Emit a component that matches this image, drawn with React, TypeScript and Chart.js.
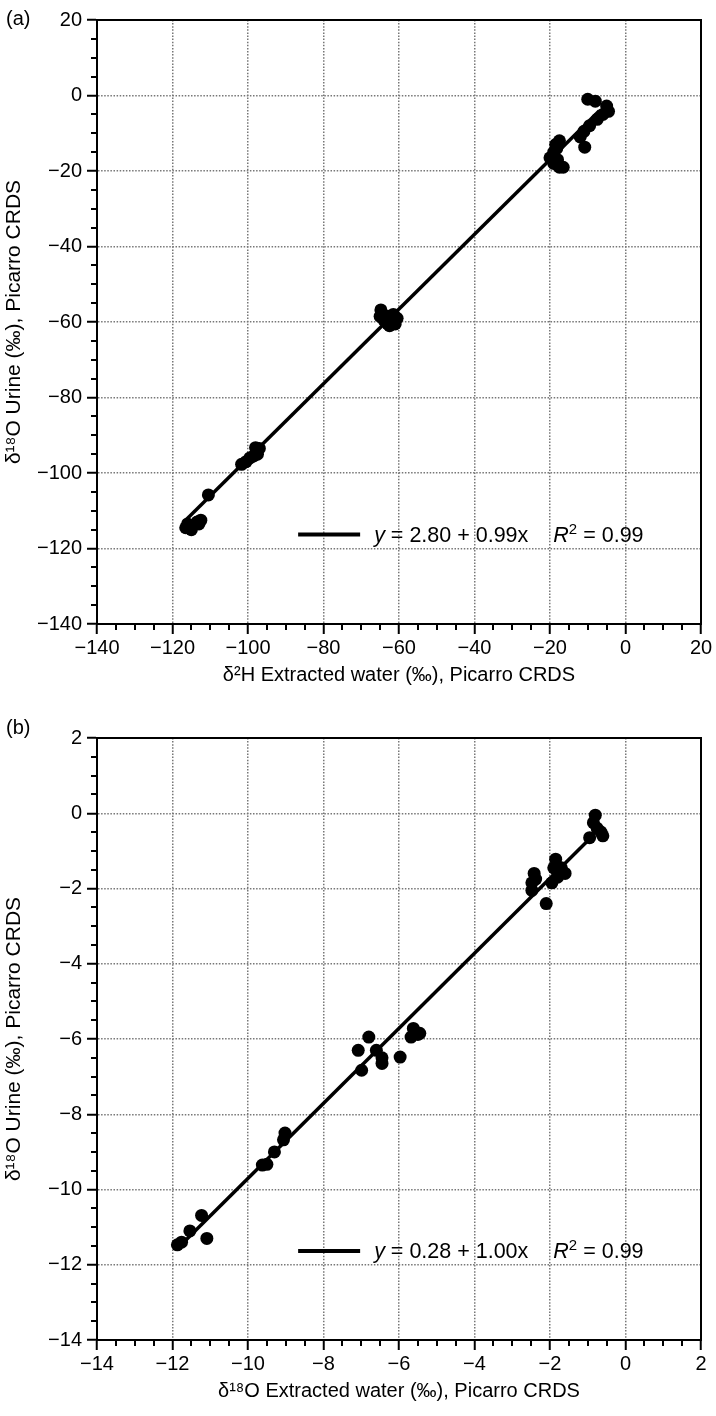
import React, { useEffect, useRef } from "react";
import { Chart, registerables } from "chart.js";

Chart.register(...registerables);

const FONT = "'Liberation Sans', Arial, Helvetica, sans-serif";

// ---------- Panel (a): δ2H ----------
const aPointsX = [
  -116.5, -116, -115, -113.5, -112.5, -113,
  -110.5,
  -101.7, -100.5, -99.5, -98.5, -98, -97, -97.5,
  -64.8, -65, -64, -63, -62, -61, -60.5, -61.5, -63, -62.5,
  -17.5, -18.5, -19, -20, -19, -17.5, -16.5, -18, -18.2,
  -10, -8, -5, -4.5, -7.5, -9.5, -11, -10.8, -6, -12,
];
const aPointsY = [
  -114.5, -113.5, -115, -113, -112.5, -113.5,
  -105.8,
  -97.7, -97, -96, -95.5, -93.3, -93.5, -95,
  -56.8, -58.5, -59.5, -60.5, -59, -60.5, -59, -58, -58.5, -61,
  -12, -13, -15, -16.5, -18, -19, -19, -17, -14,
  -1, -1.5, -2.8, -4.2, -6.3, -8, -9.5, -13.7, -5, -11,
];
const aFitX = [-117, -7];
const aFitY = [-113.0, -4.1];
const aXTicks = [-140, -120, -100, -80, -60, -40, -20, 0, 20];
const aYTicks = [-140, -120, -100, -80, -60, -40, -20, 0, 20];
const aMinorStep = 5;
const aXTitle = "δ²H Extracted water (‰), Picarro CRDS";
const aYTitle = "δ¹⁸O Urine (‰), Picarro CRDS";
const aIntercept = "2.80";
const aSlope = "0.99";
const aR2 = "0.99";

// ---------- Panel (b): δ18O ----------
const bPointsX = [
  -0.8, -0.85, -0.75, -0.65, -0.6, -0.95,
  -1.85, -1.9, -1.6, -1.8, -1.95, -2.1, -1.7,
  -2.42, -2.48, -2.48, -2.38,
  -6.8, -7.08, -6.6, -6.45, -6.99, -5.97, -5.62, -5.5, -5.68, -5.45, -6.45,
  -9.02, -9.06, -9.3, -9.5, -9.62,
  -11.23, -11.54, -11.76, -11.87, -11.09,
];
const bPointsY = [
  -0.05, -0.25, -0.4, -0.5, -0.6, -0.65,
  -1.22, -1.45, -1.6, -1.7, -1.85, -2.4, -1.45,
  -1.6, -1.85, -2.05, -1.75,
  -5.95, -6.3, -6.3, -6.65, -6.83, -6.48, -5.72, -5.88, -5.95, -5.85, -6.5,
  -8.5, -8.68, -9.0, -9.33, -9.35,
  -10.69, -11.1, -11.4, -11.47, -11.3,
];
const bFitX = [-11.85, -0.9];
const bFitY = [-11.55, -0.63];
const bXTicks = [-14, -12, -10, -8, -6, -4, -2, 0, 2];
const bYTicks = [-14, -12, -10, -8, -6, -4, -2, 0, 2];
const bMinorStep = 0.5;
const bXTitle = "δ¹⁸O Extracted water (‰), Picarro CRDS";
const bYTitle = "δ¹⁸O Urine (‰), Picarro CRDS";
const bIntercept = "0.28";
const bSlope = "1.00";
const bR2 = "0.99";

const fmt = (v: number) => (v < 0 ? "\u2212" + String(Math.abs(v)) : String(v));

const decorPlugin = {
  id: "decor",
  afterDraw(chart: any) {
    const o = chart.options.plugins.decor;
    const { ctx, chartArea: a } = chart;
    const xs = chart.scales.x;
    const ys = chart.scales.y;
    ctx.save();
    ctx.strokeStyle = "#000";
    ctx.lineWidth = 2;
    const isMajor = (v: number) =>
      Math.abs(v / o.major - Math.round(v / o.major)) < 1e-6;
    const nx = Math.round((xs.max - xs.min) / o.minor);
    for (let i = 0; i <= nx; i++) {
      const v = xs.min + i * o.minor;
      if (isMajor(v)) continue;
      const p = Math.round(xs.getPixelForValue(v));
      ctx.beginPath();
      ctx.moveTo(p, a.bottom);
      ctx.lineTo(p, a.bottom + 6);
      ctx.stroke();
    }
    const ny = Math.round((ys.max - ys.min) / o.minor);
    for (let i = 0; i <= ny; i++) {
      const v = ys.min + i * o.minor;
      if (isMajor(v)) continue;
      const p = Math.round(ys.getPixelForValue(v));
      ctx.beginPath();
      ctx.moveTo(a.left, p);
      ctx.lineTo(a.left - 6, p);
      ctx.stroke();
    }
    ctx.strokeRect(a.left, a.top, a.right - a.left, a.bottom - a.top);

    // legend
    const lx = a.left + 0.333 * (a.right - a.left);
    const ly = a.top + 0.852 * (a.bottom - a.top);
    ctx.lineWidth = 4;
    ctx.beginPath();
    ctx.moveTo(lx, ly);
    ctx.lineTo(lx + 62, ly);
    ctx.stroke();
    let tx = lx + 76;
    ctx.fillStyle = "#000";
    ctx.textBaseline = "middle";
    ctx.textAlign = "left";
    const seg = (t: string, font: string, dy = 0) => {
      ctx.font = font;
      ctx.fillText(t, tx, ly + 1 + dy);
      tx += ctx.measureText(t).width;
    };
    const norm = `21.5px ${FONT}`;
    const ital = `italic 21.5px ${FONT}`;
    seg("y", ital);
    seg(` = ${o.intercept} + ${o.slope}x`, norm);
    tx += 25;
    seg("R", ital);
    seg("2", `15px ${FONT}`, -6);
    seg(` = ${o.r2}`, norm);
    ctx.restore();
  },
};

function makeConfig(
  px: number[],
  py: number[],
  fx: number[],
  fy: number[],
  xTicks: number[],
  yTicks: number[],
  minor: number,
  xTitle: string,
  yTitle: string,
  intercept: string,
  slope: string,
  r2: string,
  padTop: number
): any {
  const major = xTicks[1] - xTicks[0];
  const gridColor = (ctx: any) => {
    const v = ctx.tick ? ctx.tick.value : null;
    if (v === null) return "#777";
    if (v === xTicks[0] || v === xTicks[xTicks.length - 1]) return "rgba(0,0,0,0)";
    return "#777";
  };
  const gridColorY = (ctx: any) => {
    const v = ctx.tick ? ctx.tick.value : null;
    if (v === null) return "#777";
    if (v === yTicks[0] || v === yTicks[yTicks.length - 1]) return "rgba(0,0,0,0)";
    return "#777";
  };
  return {
    type: "scatter",
    data: {
      datasets: [
        {
          label: "data",
          data: px.map((x, i) => ({ x, y: py[i] })),
          backgroundColor: "#000",
          borderColor: "#000",
          pointRadius: 6.5,
          pointHoverRadius: 6.5,
          borderWidth: 0,
        },
        {
          label: "fit",
          data: fx.map((x, i) => ({ x, y: fy[i] })),
          showLine: true,
          borderColor: "#000",
          backgroundColor: "#000",
          borderWidth: 3.5,
          pointRadius: 0,
        },
      ],
    },
    options: {
      responsive: false,
      animation: false,
      events: [],
      layout: { padding: { top: padTop, right: 15, left: 0, bottom: 0 } },
      plugins: {
        legend: { display: false },
        tooltip: { enabled: false },
        decor: { minor, major, intercept, slope, r2 },
      },
      scales: {
        x: {
          type: "linear",
          min: xTicks[0],
          max: xTicks[xTicks.length - 1],
          afterBuildTicks: (s: any) => {
            s.ticks = xTicks.map((v) => ({ value: v }));
          },
          afterFit: (s: any) => {
            s.height = 76;
          },
          ticks: {
            autoSkip: false,
            maxRotation: 0,
            padding: 2,
            color: "#000",
            font: { family: FONT, size: 20 },
            callback: (v: any) => fmt(Number(v)),
          },
          grid: {
            color: gridColor,
            lineWidth: 1.5,
            tickColor: "#000",
            tickWidth: 2,
            tickLength: 10,
            drawTicks: true,
          },
          border: { display: true, color: "#000", width: 2, dash: [1.5, 1.6] },
          title: {
            display: true,
            text: xTitle,
            color: "#000",
            font: { family: FONT, size: 20 },
            padding: { top: 0, bottom: 13 },
          },
        },
        y: {
          type: "linear",
          min: yTicks[0],
          max: yTicks[yTicks.length - 1],
          afterBuildTicks: (s: any) => {
            s.ticks = yTicks.map((v) => ({ value: v }));
          },
          afterFit: (s: any) => {
            s.width = 97;
          },
          ticks: {
            autoSkip: false,
            padding: 5,
            color: "#000",
            font: { family: FONT, size: 20 },
            callback: (v: any) => fmt(Number(v)),
          },
          grid: {
            color: gridColorY,
            lineWidth: 1.5,
            tickColor: "#000",
            tickWidth: 2,
            tickLength: 10,
            drawTicks: true,
          },
          border: { display: true, color: "#000", width: 2, dash: [1.5, 1.6] },
          title: {
            display: true,
            text: yTitle,
            color: "#000",
            font: { family: FONT, size: 21 },
            padding: { top: 1.4, bottom: 0 },
          },
        },
      },
    },
    plugins: [decorPlugin],
  };
}

function Panel(props: { top: number; height: number; cfg: () => any }) {
  const ref = useRef<HTMLCanvasElement | null>(null);
  useEffect(() => {
    if (!ref.current) return;
    const chart = new Chart(ref.current, props.cfg());
    return () => chart.destroy();
  }, []);
  return (
    <canvas
      ref={ref}
      width={716}
      height={props.height}
      style={{ position: "absolute", left: 0, top: props.top, width: 716, height: props.height }}
    />
  );
}

export default function App() {
  const labelStyle: React.CSSProperties = {
    position: "absolute",
    left: 6,
    fontFamily: FONT,
    fontSize: 20,
    lineHeight: "22px",
    color: "#000",
  };
  return (
    <div style={{ position: "absolute", left: 0, top: 0, width: 716, height: 1416, background: "#fff" }}>
      <Panel
        top={0}
        height={700}
        cfg={() =>
          makeConfig(aPointsX, aPointsY, aFitX, aFitY, aXTicks, aYTicks, aMinorStep, aXTitle, aYTitle, aIntercept, aSlope, aR2, 20)
        }
      />
      <Panel
        top={700}
        height={716}
        cfg={() =>
          makeConfig(bPointsX, bPointsY, bFitX, bFitY, bXTicks, bYTicks, bMinorStep, bXTitle, bYTitle, bIntercept, bSlope, bR2, 38)
        }
      />
      <div style={{ ...labelStyle, top: 7 }}>(a)</div>
      <div style={{ ...labelStyle, top: 716 }}>(b)</div>
    </div>
  );
}
